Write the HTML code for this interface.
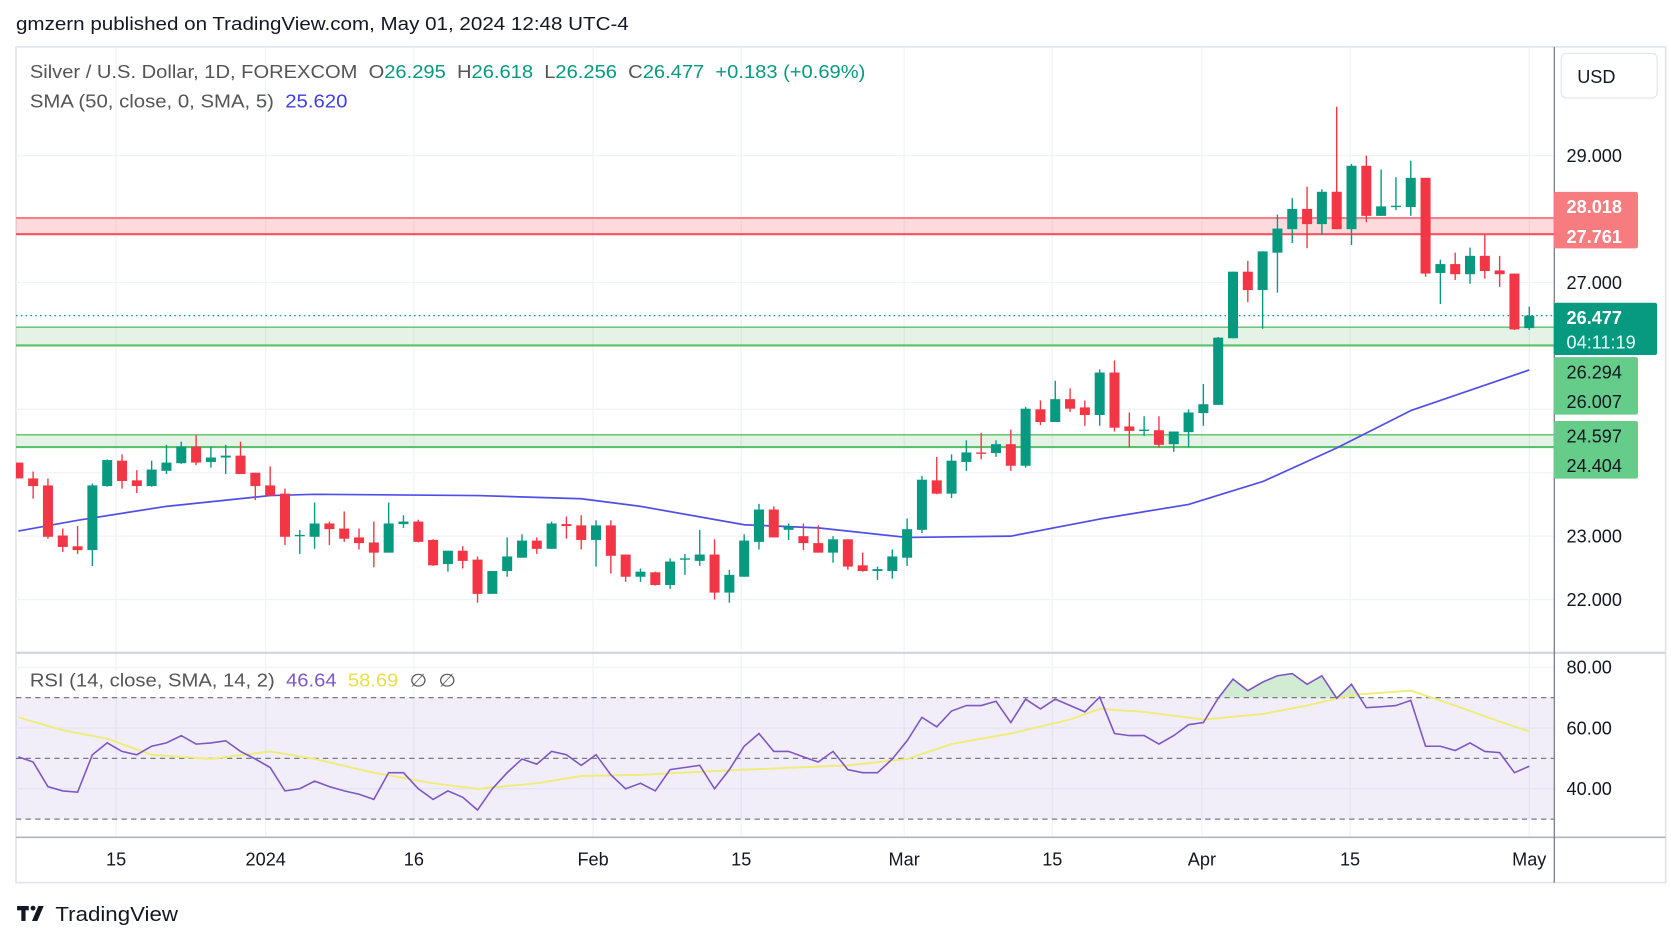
<!DOCTYPE html>
<html><head><meta charset="utf-8"><style>
html,body{margin:0;padding:0;background:#fff;}
svg{display:block;font-family:"Liberation Sans",sans-serif;}
text{white-space:pre;}
</style></head><body>
<svg id="c" width="1671" height="938" viewBox="0 0 1568 880" preserveAspectRatio="none" xmlns="http://www.w3.org/2000/svg">
<defs>
<clipPath id="mainClip"><rect x="15" y="44" width="1443" height="568"/></clipPath>
<clipPath id="rsiClip"><rect x="15" y="613" width="1443" height="172"/></clipPath>
<clipPath id="obClip"><rect x="15" y="613" width="1443" height="41.5"/></clipPath>
</defs>
<rect x="0" y="0" width="1568" height="880" fill="#fff"/>
<text x="15" y="28" font-size="17" fill="#131722" textLength="575" lengthAdjust="spacingAndGlyphs">gmzern published on TradingView.com, May 01, 2024 12:48 UTC-4</text>
<rect x="15" y="44" width="1548" height="784" fill="none" stroke="#e0e3eb" stroke-width="1.5"/>
<g id="grid"></g>
<g id="zones" clip-path="url(#mainClip)"></g>
<g id="sma" clip-path="url(#mainClip)"></g>
<g id="candles" clip-path="url(#mainClip)"></g>
<g id="rsi"></g>
<line x1="15" y1="612.5" x2="1563" y2="612.5" stroke="#d1d4dc" stroke-width="2"/>
<line x1="15" y1="785.5" x2="1563" y2="785.5" stroke="#b2b5be" stroke-width="1.5"/>
<line x1="1458.5" y1="44" x2="1458.5" y2="828" stroke="#787b86" stroke-width="1.2"/>
<g id="axis"></g>
<text x="28" y="73" font-size="17" fill="#555" textLength="784" lengthAdjust="spacingAndGlyphs"><tspan>Silver / U.S. Dollar, 1D, FOREXCOM  O</tspan><tspan fill="#089981">26.295</tspan><tspan>  H</tspan><tspan fill="#089981">26.618</tspan><tspan>  L</tspan><tspan fill="#089981">26.256</tspan><tspan>  C</tspan><tspan fill="#089981">26.477  +0.183 (+0.69%)</tspan></text>
<text x="28" y="101" font-size="17" fill="#555" textLength="298" lengthAdjust="spacingAndGlyphs"><tspan>SMA (50, close, 0, SMA, 5)  </tspan><tspan fill="#3f3fe6">25.620</tspan></text>
<text x="28" y="644" font-size="17" fill="#555" textLength="400" lengthAdjust="spacingAndGlyphs"><tspan>RSI (14, close, SMA, 14, 2)  </tspan><tspan fill="#7e57c2">46.64</tspan><tspan fill="#e8e04a">  58.69</tspan><tspan>  ∅  ∅</tspan></text>
<rect x="1465" y="50" width="90" height="42" rx="5" fill="#fff" stroke="#e0e3eb"/>
<text x="1480" y="78" font-size="17" fill="#131722">USD</text>
<g><rect x="1458" y="180" width="79" height="53" rx="2" fill="#f77c80"/><text x="1470" y="200" font-size="17" font-weight="bold" fill="#fff">28.018</text><text x="1470" y="228" font-size="17" font-weight="bold" fill="#fff">27.761</text></g>
<g><rect x="1458" y="335" width="79" height="54" rx="2" fill="#66cc8a"/><text x="1470" y="355" font-size="17" fill="#131722">26.294</text><text x="1470" y="383" font-size="17" fill="#131722">26.007</text></g>
<g><rect x="1458" y="284" width="97" height="49" rx="2" fill="#089981"/><text x="1470" y="304" font-size="17" font-weight="bold" fill="#fff">26.477</text><text x="1470" y="327" font-size="17" fill="#e0fff5">04:11:19</text></g>
<g><rect x="1458" y="395" width="79" height="54" rx="2" fill="#66cc8a"/><text x="1470" y="415" font-size="17" fill="#131722">24.597</text><text x="1470" y="443" font-size="17" fill="#131722">24.404</text></g>
<g><rect x="16" y="850" width="11" height="4" fill="#131722"/><rect x="20" y="850" width="4" height="14" fill="#131722"/><circle cx="31" cy="852" r="2.3" fill="#131722"/><polygon points="36,850 41,850 35,864 30,864" fill="#131722"/><text x="52" y="864" font-size="19" fill="#131722" textLength="115" lengthAdjust="spacingAndGlyphs">TradingView</text></g>
</svg>
<script>
const opens=[24.16,23.91,23.80,23.01,22.84,22.78,23.79,24.19,23.88,23.79,24.03,24.15,24.41,24.17,24.24,24.27,24.00,23.80,23.67,23.00,22.99,23.20,23.12,22.98,22.90,22.74,23.19,23.23,22.94,22.56,22.77,22.63,22.09,22.45,22.66,22.93,22.80,23.19,23.17,22.94,23.17,22.71,22.36,22.43,22.23,22.63,22.61,22.71,22.11,22.36,22.91,23.42,23.10,23.00,22.89,22.74,22.95,22.54,22.45,22.45,22.66,23.10,23.88,23.67,24.17,24.32,24.31,24.45,24.11,25.00,24.80,25.16,25.03,24.91,25.58,24.73,24.66,24.67,24.45,24.64,24.94,25.07,26.12,27.17,26.88,27.47,27.84,28.16,27.92,28.43,27.84,28.84,28.05,28.19,28.19,28.65,27.15,27.29,27.13,27.42,27.19,27.14,26.28];
const highs=[24.16,24.02,23.91,23.12,23.16,23.83,24.21,24.29,24.04,24.19,24.44,24.49,24.59,24.41,24.44,24.49,24.00,24.10,23.75,23.10,23.53,23.23,23.39,23.12,23.23,23.53,23.33,23.26,22.95,22.77,22.84,22.68,22.45,22.98,23.03,22.98,23.23,23.31,23.33,23.25,23.25,22.71,22.49,22.44,22.65,22.72,23.10,22.95,22.47,23.03,23.51,23.47,23.20,23.20,23.17,23.00,22.95,22.74,22.52,22.79,23.28,23.95,24.25,24.29,24.51,24.63,24.51,24.68,25.04,25.14,25.45,25.33,25.14,25.63,25.77,24.95,24.89,24.89,24.65,25.00,25.40,26.14,27.17,27.34,27.49,28.07,28.33,28.51,28.47,29.77,28.87,29.00,28.78,28.66,28.92,28.65,27.36,27.47,27.55,27.75,27.42,27.14,26.62];
const lows=[23.91,23.59,22.96,22.75,22.72,22.53,23.78,23.75,23.68,23.78,23.98,24.14,24.12,24.08,23.98,23.98,23.57,23.63,22.86,22.72,22.80,22.86,22.91,22.79,22.51,22.74,23.13,22.90,22.53,22.44,22.49,21.95,22.09,22.36,22.66,22.72,22.80,22.96,22.79,22.52,22.41,22.28,22.28,22.22,22.17,22.39,22.53,22.00,21.95,22.36,22.79,22.98,22.94,22.78,22.74,22.58,22.47,22.44,22.31,22.33,22.53,23.05,23.66,23.60,24.03,24.21,24.25,24.03,24.08,24.75,24.80,24.96,24.74,24.74,24.65,24.40,24.58,24.40,24.33,24.40,24.74,25.07,26.12,26.69,26.27,26.84,27.62,27.54,27.75,27.84,27.59,27.95,28.05,28.14,28.05,27.09,26.66,27.04,26.98,27.06,26.93,26.25,26.25];
const closes=[23.91,23.79,22.99,22.83,22.78,23.80,24.20,23.87,23.79,24.05,24.16,24.41,24.16,24.24,24.27,23.98,23.79,23.64,22.99,23.02,23.20,23.11,22.96,22.89,22.74,23.20,23.23,22.91,22.54,22.77,22.61,22.09,22.45,22.68,22.93,22.80,23.20,23.16,22.94,23.17,22.69,22.36,22.44,22.23,22.60,22.65,22.71,22.11,22.39,22.93,23.42,22.98,23.15,22.89,22.74,22.95,22.52,22.45,22.48,22.68,23.11,23.89,23.67,24.19,24.32,24.31,24.45,24.11,25.01,24.80,25.16,25.01,24.91,25.58,24.71,24.66,24.68,24.44,24.65,24.95,25.08,26.13,27.17,26.88,27.49,27.85,28.16,27.92,28.43,27.84,28.84,28.05,28.20,28.21,28.65,27.14,27.29,27.13,27.42,27.18,27.13,26.26,26.477];
const smaIdx=[0,4,10,17,20,31,38,42,49,54,60,67,73,79,84,89,94,102];
const smaVal=[23.08,23.25,23.47,23.64,23.66,23.64,23.59,23.47,23.18,23.13,22.98,23.00,23.27,23.50,23.86,24.39,24.98,25.62];
const rsiVal=[50.5,48.8,40.7,39.3,38.9,51.2,55.1,52.3,51.2,54.0,55.1,57.5,54.7,55.1,55.8,52.3,49.8,47.0,39.3,40.0,42.5,40.7,39.3,38.2,36.5,45.3,45.3,40.0,36.5,39.3,37.2,33.0,40.0,45.3,49.8,48.1,52.3,51.2,47.7,51.2,44.6,40.0,41.8,39.3,46.3,47.0,47.7,40.0,46.3,54.0,58.2,52.3,52.3,50.5,48.8,52.3,46.3,45.3,45.3,49.8,55.8,63.5,60.4,65.6,67.4,67.4,68.8,61.8,69.5,66.3,69.5,67.4,65.3,70.2,58.2,57.5,57.5,54.7,57.5,61.1,61.8,69.8,76.1,72.3,75.1,77.2,77.9,74.4,77.2,69.8,74.4,66.7,67.0,67.4,69.1,54.0,54.0,52.6,55.1,52.3,51.9,45.3,47.4];
const rsiSmaIdx=[0,3,6,9,13,17,20,24,28,31,35,38,42,49,56,60,63,67,71,73,76,80,84,87,90,94,97,100,102];
const rsiSmaVal=[63.5,59.3,56.5,51.2,49.8,52.3,49.8,45.3,41.8,40.0,41.8,44.2,44.6,46.3,47.7,49.8,54.7,58.2,62.8,66.3,65.3,62.8,64.6,67.4,70.9,72.3,67.4,62.1,58.9];
const priceTicks=[22,23,27,29];
const priceTickLabels=["22.000","23.000","27.000","29.000"];
const rsiTicks=[40,60,80];
const rsiTickLabels=["40.00","60.00","80.00"];
const timeTickIdx=[6.6,16.7,26.7,38.8,48.8,59.8,69.8,79.9,89.9,102];
const timeTickLabels=["15","2024","16","Feb","15","Mar","15","Apr","15","May"];
const zoneLow=[27.761,26.007,24.404];
const zoneHigh=[28.018,26.294,24.597];
const zoneKind=["res","sup","sup"];
const lastPrice=26.477;

const NS="http://www.w3.org/2000/svg";
const X=i=>17.2+i*13.9;
const YP=p=>265-(p-27)*59.5;
const YR=v=>626-(v-80)*2.85;
function mk(tag,attrs,parent){const e=document.createElementNS(NS,tag);for(const k in attrs)e.setAttribute(k,attrs[k]);parent.appendChild(e);return e;}
const grid=document.getElementById('grid');
for(let i=0;i<timeTickIdx.length;i++){const l=mk('line',{x1:X(timeTickIdx[i]),x2:X(timeTickIdx[i]),y1:44,y2:785,stroke:'#f0f3fa','stroke-width':1.2},grid);

}
for(let p=22;p<=29;p++){const l=mk('line',{x1:15,x2:1458,y1:YP(p),y2:YP(p),stroke:'#f0f3fa','stroke-width':1.2},grid);

}
for(const v of rsiTicks){const l=mk('line',{x1:15,x2:1458,y1:YR(v),y2:YR(v),stroke:'#f0f3fa','stroke-width':1.2},grid);

}
const zones=document.getElementById('zones');
for(let i=0;i<zoneLow.length;i++){const res=zoneKind[i]==='res';const top=YP(zoneHigh[i]),bot=YP(zoneLow[i]);
const r=mk('rect',{x:15,y:top,width:1443,height:bot-top,fill:res?'rgba(242,54,69,0.18)':'rgba(76,175,80,0.15)'},zones);


const c=res?'#f7525f':'#5cbf6a';
const a=mk('line',{x1:15,x2:1458,y1:top,y2:top,stroke:c,'stroke-width':1.3},zones);


const b=mk('line',{x1:15,x2:1458,y1:bot,y2:bot,stroke:c,'stroke-width':2},zones);

}
const lp=mk('line',{x1:15,x2:1458,y1:YP(lastPrice),y2:YP(lastPrice),stroke:'#089981','stroke-width':1.2,'stroke-dasharray':'1.5 3'},zones);


const sma=document.getElementById('sma');
const sp=mk('path',{d:smaIdx.map((k,i)=>(i?'L':'M')+X(k)+','+YP(smaVal[i])).join(''),fill:'none',stroke:'#4f4fe8','stroke-width':1.6,'stroke-linejoin':'round'},sma);


const cg=document.getElementById('candles');
for(let i=0;i<opens.length;i++){const up=closes[i]>=opens[i];const col=up?'#089981':'#f23645';const x=X(i);
const w=mk('line',{x1:x,x2:x,y1:YP(highs[i]),y2:YP(lows[i]),stroke:col,'stroke-width':1.3},cg);


const t=YP(Math.max(opens[i],closes[i])),bt=YP(Math.min(opens[i],closes[i]));
const b=mk('rect',{x:x-4.7,y:t,width:9.4,height:Math.max(1.3,bt-t),fill:col},cg);

}
const rg=document.getElementById('rsi');
const bg=mk('rect',{x:15,y:YR(70),width:1443,height:YR(30)-YR(70),fill:'rgba(126,87,194,0.1)'},rg);


for(const v of [70,50,30]){const l=mk('line',{x1:15,x2:1458,y1:YR(v),y2:YR(v),stroke:'#787b86','stroke-width':1.2,'stroke-dasharray':'5 4'},rg);

}
const rpts=rsiVal.map((v,i)=>X(i)+','+YR(v));
const ob=mk('path',{d:'M'+X(0)+','+YR(70)+'L'+rpts.join('L')+'L'+X(rsiVal.length-1)+','+YR(70)+'Z',fill:'rgba(76,175,80,0.25)','clip-path':'url(#obClip)'},rg);


const ys=mk('path',{d:rsiSmaIdx.map((k,i)=>(i?'L':'M')+X(k)+','+YR(rsiSmaVal[i])).join(''),fill:'none',stroke:'#f0ec7a','stroke-width':1.8,'clip-path':'url(#rsiClip)'},rg);


const rl=mk('path',{d:'M'+rpts.join('L'),fill:'none',stroke:'#7e57c2','stroke-width':1.5,'clip-path':'url(#rsiClip)'},rg);


const ax=document.getElementById('axis');
for(let i=0;i<priceTicks.length;i++){const t=mk('text',{x:1470,y:YP(priceTicks[i])+6,'font-size':17,fill:'#131722'},ax);t.textContent=priceTickLabels[i];

}
for(let i=0;i<rsiTicks.length;i++){const t=mk('text',{x:1470,y:YR(rsiTicks[i])+6,'font-size':17,fill:'#131722'},ax);t.textContent=rsiTickLabels[i];

}
for(let i=0;i<timeTickIdx.length;i++){const t=mk('text',{x:X(timeTickIdx[i]),y:812,'font-size':17,fill:'#131722','text-anchor':'middle'},ax);t.textContent=timeTickLabels[i];

}
</script>
</body></html>
